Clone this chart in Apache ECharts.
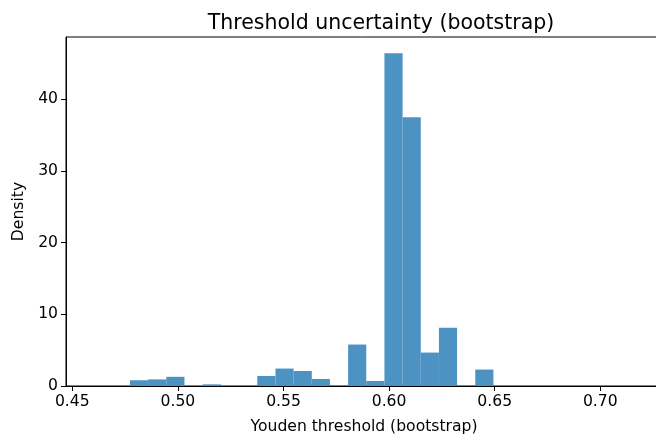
<!DOCTYPE html>
<html>
<head>
<meta charset="utf-8">
<script src="https://cdn.jsdelivr.net/npm/echarts@6/dist/echarts.min.js"></script>
<style>
  html, body { margin: 0; padding: 0; background: #fff; }
  #chart { width: 656px; height: 437px; }
</style>
</head>
<body>
<div id="chart"></div>
<script>
// Histogram bin edges of the bootstrap Youden thresholds
const binEdges = [0.4773, 0.4859, 0.4945, 0.5031, 0.5118, 0.5204, 0.5290, 0.5376,
                  0.5462, 0.5548, 0.5634, 0.5720, 0.5806, 0.5892, 0.5978, 0.6064,
                  0.6150, 0.6236, 0.6322, 0.6408, 0.6494, 0.6580];
// Density of each bin
const densities = [0.80, 0.92, 1.28, 0.12, 0.23, 0, 0, 1.40, 2.43, 2.09, 0.98,
                   0, 5.78, 0.70, 46.38, 37.45, 4.66, 8.13, 0, 2.29, 0.12];
const xTicks = [0.45, 0.50, 0.55, 0.60, 0.65, 0.70];
const yTicks = [0, 10, 20, 30, 40];

const bins = densities.map((d, i) => [binEdges[i], binEdges[i + 1], d]);

const FONT = 'DejaVu Sans';
const chart = echarts.init(document.getElementById('chart'), null, { renderer: 'canvas' });

// The plot frame runs slightly past the right edge of the canvas.
const GRID_LEFT = 66, GRID_WIDTH = 596;

chart.setOption({
  animation: false,
  backgroundColor: '#ffffff',
  title: {
    text: 'Threshold uncertainty (bootstrap)',
    left: 376,
    top: 8,
    textAlign: 'center',
    textStyle: { fontFamily: FONT, fontSize: 20.5, fontWeight: 'normal', color: '#000' }
  },
  grid: {
    left: GRID_LEFT, top: 37, width: GRID_WIDTH, height: 349,
    outerBoundsMode: 'none',
    containLabel: false,
    show: true, borderColor: '#000', borderWidth: 1, backgroundColor: 'transparent'
  },
  xAxis: {
    type: 'value',
    min: 0.44702,
    max: 0.72922,
    name: 'Youden threshold (bootstrap)',
    nameLocation: 'middle',
    nameGap: 33,
    nameTextStyle: { fontFamily: FONT, fontSize: 15.6, color: '#000', align: 'center' },
    axisLine: { show: true, onZero: false, lineStyle: { color: '#000', width: 1 } },
    axisTick: { show: true, length: 5, lineStyle: { color: '#000' }, customValues: xTicks },
    axisLabel: {
      fontFamily: FONT, fontSize: 15.6, color: '#000', margin: 8,
      customValues: xTicks,
      formatter: v => v.toFixed(2)
    },
    splitLine: { show: false }
  },
  yAxis: {
    type: 'value',
    min: 0,
    max: 48.65,
    name: 'Density',
    nameLocation: 'middle',
    nameGap: 36,
    nameRotate: 90,
    nameTextStyle: { fontFamily: FONT, fontSize: 15.6, color: '#000' },
    axisLine: { show: true, onZero: false, lineStyle: { color: '#000', width: 1 } },
    axisTick: { show: true, length: 5, lineStyle: { color: '#000' }, customValues: yTicks },
    axisLabel: {
      fontFamily: FONT, fontSize: 15.6, color: '#000', margin: 8,
      customValues: yTicks
    },
    splitLine: { show: false }
  },
  series: [{
    type: 'custom',
    clip: true,
    data: bins,
    encode: { x: [0, 1], y: 2 },
    renderItem: function (params, api) {
      const p0 = api.coord([api.value(0), api.value(2)]);
      const p1 = api.coord([api.value(1), 0]);
      return {
        type: 'rect',
        shape: { x: p0[0], y: p0[1], width: p1[0] - p0[0], height: p1[1] - p0[1] },
        style: { fill: '#4c92c3' }
      };
    }
  }]
});
</script>
</body>
</html>
